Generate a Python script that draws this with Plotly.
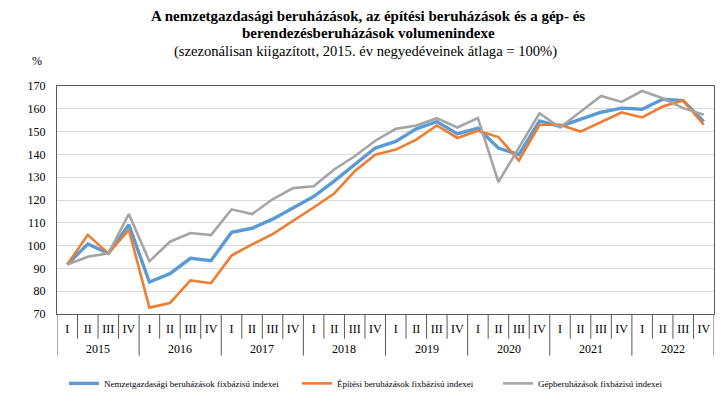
import plotly.graph_objects as go

years = ['2015', '2016', '2017', '2018', '2019', '2020', '2021', '2022']
quarters = ['I', 'II', 'III', 'IV']

nemzetgazdasagi = [91.7, 100.7, 96.6, 109.1, 84.0, 87.7, 94.4, 93.4,
                   105.8, 107.6, 111.6, 116.4, 121.5, 128.3, 135.6, 142.8,
                   145.7, 151.2, 154.4, 149.0, 151.5, 142.8, 139.9, 154.7,
                   152.3, 155.5, 158.5, 160.3, 159.8, 164.2, 163.6, 154.4]
epitesi = [91.7, 104.7, 96.6, 106.9, 72.8, 74.8, 84.7, 83.5,
           95.6, 100.5, 105.0, 110.8, 116.7, 122.8, 132.6, 139.9,
           142.1, 146.5, 152.7, 147.2, 150.4, 147.6, 137.3, 153.0,
           153.0, 150.0, 154.2, 158.4, 156.2, 161.0, 163.6, 153.0]
gep = [91.7, 95.1, 96.6, 113.8, 93.1, 101.7, 105.5, 104.6,
       115.9, 113.8, 120.3, 125.2, 126.0, 133.4, 139.2, 146.0,
       151.2, 152.7, 155.9, 151.8, 155.9, 127.9, 143.0, 158.0,
       151.8, 158.8, 165.6, 163.0, 167.8, 164.6, 160.3, 157.4]

series_names = ['Nemzetgazdasági beruházások fixbázisú indexei',
                'Építési beruházások fixbázisú indexei',
                'Gépberuházások fixbázisú indexei']
series_values = [nemzetgazdasagi, epitesi, gep]
colors = ['#5B9BD5', '#ED7D31', '#A5A5A5']
widths = [3.4, 2.6, 2.6]

title_lines = ['<b>A nemzetgazdasági beruházások, az építési beruházások és a gép- és</b>',
               '<b>berendezésberuházások volumenindexe</b>',
               '(szezonálisan kiigazított, 2015. év negyedéveinek átlaga = 100%)']
title_sizes = [15, 15, 14.6]

FONT = 'Liberation Serif, Times New Roman, DejaVu Serif, serif'
W, H = 727, 410
ML, MR, MT, MB = 57, 13, 86, 94
PW, PH = W - ML - MR, H - MT - MB

cats = [(y, q) for y in years for q in quarters]
n = len(cats)
xs = list(range(n))
qlabels = [q for _, q in cats]


def py(px_y):
    return (H - MB - px_y) / PH


def pxx(px_x):
    return (px_x - ML) / PW


fig = go.Figure()
legend_names = ['legend', 'legend2', 'legend3']
legend_x = [64, 297, 498]
for name, vals, c, w, lg in zip(series_names, series_values, colors, widths, legend_names):
    fig.add_trace(go.Scatter(x=xs, y=vals, mode='lines', name=name,
                             line=dict(color=c, width=w), legend=lg))

line_col = '#595959'
shapes = []
for i in range(n + 1):
    is_year = (i % len(quarters) == 0)
    shapes.append(dict(type='line', xref='x', yref='paper',
                       x0=i - 0.5, x1=i - 0.5, y0=0,
                       y1=py(358) if is_year else py(341),
                       line=dict(color=line_col, width=1)))

annotations = []
for k, yr in enumerate(years):
    annotations.append(dict(text=yr, xref='x', yref='paper',
                            x=k * len(quarters) + (len(quarters) - 1) / 2, y=py(351),
                            showarrow=False, yanchor='middle', xanchor='center',
                            font=dict(family=FONT, size=12, color='black')))
for t, yy, sz, cx in zip(title_lines, [15, 33, 51], title_sizes, [368, 368, 365]):
    annotations.append(dict(text=t, xref='paper', yref='paper', x=pxx(cx), y=py(yy),
                            showarrow=False, xanchor='center', yanchor='middle',
                            font=dict(family=FONT, size=sz, color='black')))
annotations.append(dict(text='%', xref='paper', yref='paper', x=pxx(37), y=py(61),
                        showarrow=False, xanchor='center', yanchor='middle',
                        font=dict(family=FONT, size=12, color='black')))

leg_common = dict(orientation='h', yanchor='middle', xanchor='left',
                  font=dict(family=FONT, size=9, color='black'),
                  bgcolor='rgba(0,0,0,0)', itemwidth=30)
layout_legends = {}
for lg, lx in zip(legend_names, legend_x):
    d = dict(leg_common)
    d.update(x=pxx(lx), y=py(386))
    layout_legends[lg] = d

fig.update_layout(
    width=W, height=H, autosize=False,
    margin=dict(l=ML, r=MR, t=MT, b=MB, pad=0),
    paper_bgcolor='white', plot_bgcolor='white',
    showlegend=True, hovermode=False,
    shapes=shapes, annotations=annotations,
    font=dict(family=FONT, size=12, color='black'),
    xaxis=dict(range=[-0.5, n - 0.5], tickmode='array', tickvals=xs, ticktext=qlabels,
               showgrid=False, zeroline=False, showline=True, linecolor=line_col,
               linewidth=1, mirror=True, ticks='', ticklabelstandoff=4,
               tickfont=dict(family=FONT, size=12, color='black'), fixedrange=True),
    yaxis=dict(range=[70, 170], tickmode='array', tickvals=list(range(70, 171, 10)),
               showgrid=True, gridcolor='#d9d9d9', gridwidth=1, zeroline=False,
               showline=True, linecolor=line_col, linewidth=1, mirror=True,
               ticks='', ticklabelstandoff=8,
               tickfont=dict(family=FONT, size=12, color='black'), fixedrange=True),
    **layout_legends,
)

fig.write_html('out.html', config={'displayModeBar': False, 'staticPlot': True},
               post_script="document.body.style.margin='0';document.body.style.overflow='hidden';")
